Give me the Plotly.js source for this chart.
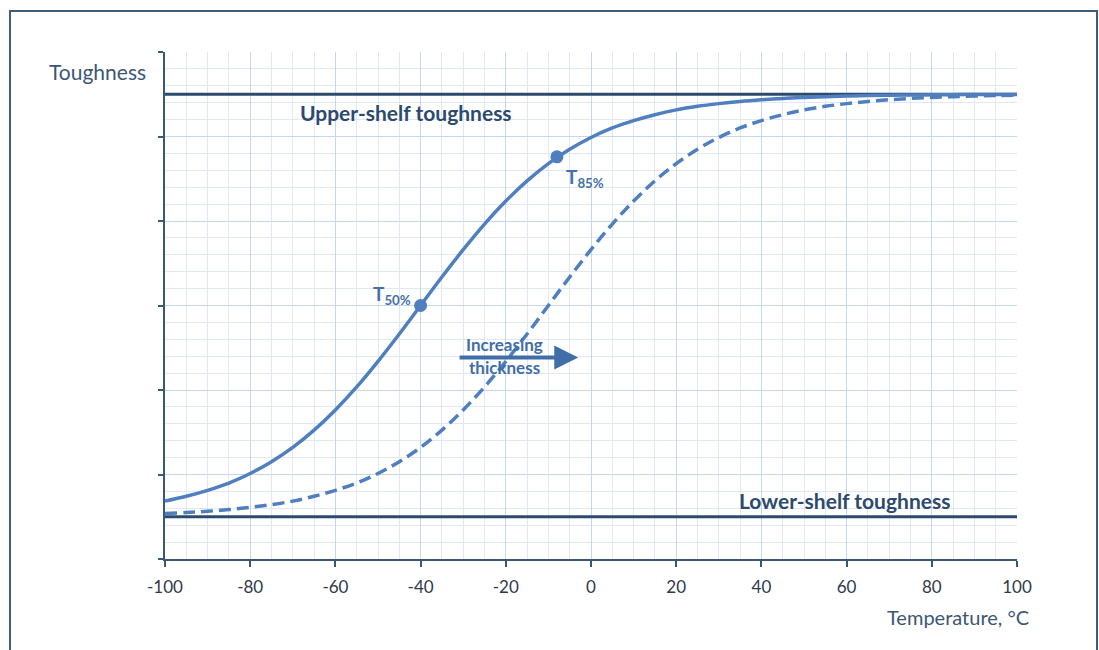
<!DOCTYPE html>
<html>
<head>
<meta charset="utf-8">
<script src="https://cdn.plot.ly/plotly-3.0.1.min.js"></script>
<style>
html,body{margin:0;padding:0;background:#fff;}
#chart{width:1099px;height:650px;}
</style>
</head>
<body>
<div id="chart"></div>
<script>
// Temperature (°C)
var temps = [-100,-95,-90,-85,-80,-75,-70,-65,-60,-55,-50,-45,-40,-35,-30,-25,-20,-15,-10,-5,0,5,10,15,20,25,30,35,40,45,50,55,60,65,70,75,80,85,90,95,100];
// Toughness, thin section (solid)
var toughThin = [0.685,0.742,0.813,0.899,1.012,1.152,1.321,1.525,1.764,2.036,2.339,2.663,3.000,3.337,3.661,3.964,4.236,4.475,4.679,4.848,4.988,5.101,5.188,5.258,5.315,5.357,5.389,5.415,5.435,5.451,5.462,5.471,5.478,5.484,5.488,5.491,5.493,5.495,5.496,5.497,5.498];
// Toughness, thicker section (dashed)
var toughThick = [0.538,0.549,0.565,0.585,0.611,0.643,0.685,0.742,0.813,0.899,1.012,1.152,1.321,1.525,1.764,2.036,2.339,2.663,3.000,3.337,3.661,3.964,4.236,4.475,4.679,4.848,4.988,5.101,5.188,5.258,5.315,5.357,5.389,5.415,5.435,5.451,5.462,5.471,5.478,5.484,5.488];
// Shelf levels
var shelfX = [-100, 100];
var upperShelf = [5.5, 5.5];
var lowerShelf = [0.5, 0.5];
// Marked transition points
var pointX = [-40, -8];
var pointY = [3.0, 4.76];
var pointLabels = ["T<sub>50%</sub>", "T<sub>85%</sub>"];
// X tick values
var xTicks = [-100,-80,-60,-40,-20,0,20,40,60,80,100];
var xTickLabels = ["-100","-80","-60","-40","-20","0","20","40","60","80","100"];
var yTicks = [0,1,2,3,4,5,6];

var blue = '#4f7fbf';
var navy = '#2c4a6e';
var font = 'Lato, "Open Sans", sans-serif';

var traces = [
  {x: shelfX, y: upperShelf, mode: 'lines', line: {color: navy, width: 3}, hoverinfo: 'skip'},
  {x: shelfX, y: lowerShelf, mode: 'lines', line: {color: navy, width: 3}, hoverinfo: 'skip'},
  {x: temps, y: toughThick, mode: 'lines', line: {color: blue, width: 3.5, dash: '12px,6px', shape: 'spline'}},
  {x: temps, y: toughThin, mode: 'lines', line: {color: blue, width: 3.5, shape: 'spline'}},
  {x: pointX, y: pointY, mode: 'markers', marker: {color: blue, size: 13}}
];

var layout = {
  width: 1099, height: 650,
  margin: {l: 165, r: 82, t: 52, b: 91},
  showlegend: false,
  paper_bgcolor: '#fff', plot_bgcolor: '#fff',
  font: {family: font, color: '#333f4f'},
  xaxis: {
    range: [-100, 100], tickvals: xTicks, ticktext: xTickLabels,
    showgrid: true, gridcolor: '#c7d7eb', gridwidth: 1,
    minor: {dtick: 5, showgrid: true, gridcolor: '#dfe8f4', gridwidth: 1},
    showline: true, linecolor: '#3a5678', linewidth: 2,
    ticks: 'outside', ticklen: 6, tickwidth: 2, tickcolor: '#3a5678',
    ticklabelstandoff: 6,
    tickfont: {size: 17, color: '#2f3a48'}, zeroline: false, fixedrange: true
  },
  yaxis: {
    range: [0, 6], tickvals: yTicks, showticklabels: false,
    showgrid: true, gridcolor: '#c7d7eb', gridwidth: 1,
    minor: {dtick: 0.2, showgrid: true, gridcolor: '#dfe8f4', gridwidth: 1},
    showline: true, linecolor: '#3a5678', linewidth: 2,
    ticks: 'outside', ticklen: 5, tickwidth: 2, tickcolor: '#3a5678',
    zeroline: false, fixedrange: true
  },
  shapes: [
    {type: 'rect', xref: 'paper', yref: 'paper', x0: -0.1819, x1: 1.0939, y0: -0.3, y1: 1.0809,
     line: {color: '#3e5b7c', width: 2}, fillcolor: 'rgba(0,0,0,0)', layer: 'above'}
  ],
  annotations: [
    {xref: 'paper', yref: 'paper', x: -0.0195, y: 0.9606, xanchor: 'right', yanchor: 'middle',
     text: 'Toughness', showarrow: false, font: {size: 21, color: '#3d5675'}},
    {xref: 'paper', yref: 'paper', x: 0.931, y: -0.115, xanchor: 'center', yanchor: 'middle',
     text: 'Temperature, °C', showarrow: false, font: {size: 20, color: '#3d5675'}},
    {x: -43.4, y: 5.5, yshift: -18, xanchor: 'center', yanchor: 'middle', showarrow: false,
     text: '<b>Upper-shelf toughness</b>', font: {size: 21, color: navy}},
    {x: 59.6, y: 0.5, yshift: 16, xanchor: 'center', yanchor: 'middle', showarrow: false,
     text: '<b>Lower-shelf toughness</b>', font: {size: 21, color: navy}},
    {x: pointX[0], y: pointY[0], xshift: -29, yshift: 11, xanchor: 'center', yanchor: 'middle', showarrow: false,
     text: '<b>' + pointLabels[0] + '</b>', font: {size: 19, color: '#4670a8'}},
    {x: pointX[1], y: pointY[1], xshift: 28, yshift: -21, xanchor: 'center', yanchor: 'middle', showarrow: false,
     text: '<b>' + pointLabels[1] + '</b>', font: {size: 19, color: '#4670a8'}},
    {x: -3.0, y: 2.385, ax: -31.2, ay: 2.385, axref: 'x', ayref: 'y', text: '', showarrow: true,
     arrowhead: 2, arrowsize: 1.2, arrowwidth: 4, arrowcolor: '#3f6ea8', standoff: 0},
    {x: -20.4, y: 2.385, yshift: 13, xanchor: 'center', yanchor: 'middle', showarrow: false,
     text: '<b>Increasing</b>', font: {size: 17, color: '#3f6ea8'}},
    {x: -20.4, y: 2.385, yshift: -10, xanchor: 'center', yanchor: 'middle', showarrow: false,
     text: '<b>thickness</b>', font: {size: 17, color: '#3f6ea8'}}
  ]
};

Plotly.newPlot('chart', traces, layout, {staticPlot: true, displayModeBar: false});
</script>
</body>
</html>
